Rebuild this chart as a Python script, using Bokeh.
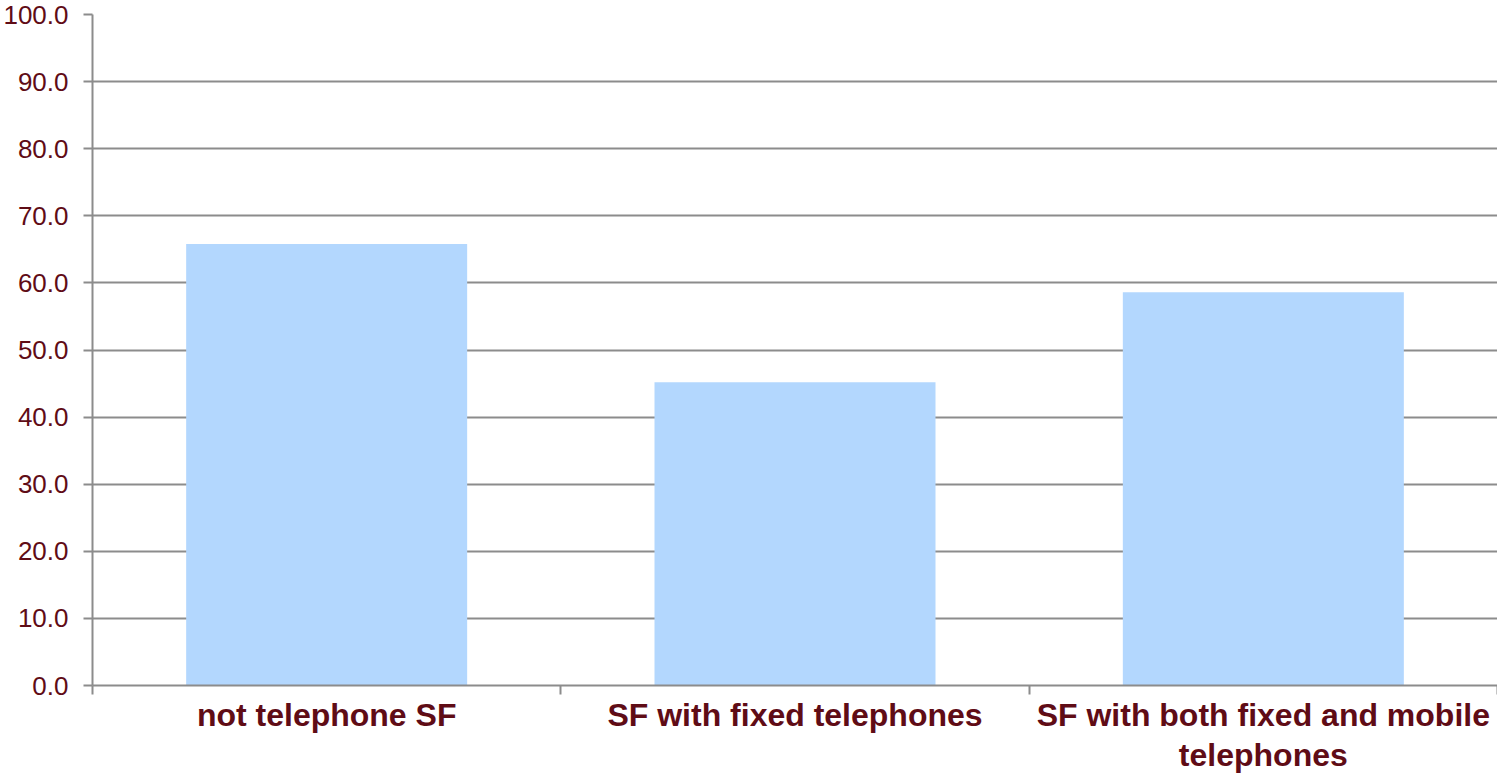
import numpy as np
from bokeh.plotting import figure
from bokeh.models import Range1d, FixedTicker, ColumnDataSource, PrintfTickFormatter
from bokeh.embed import file_html
from bokeh.resources import INLINE

categories = ["not telephone SF", "SF with fixed telephones", "SF with both fixed and mobile\ntelephones"]
values = [65.8, 45.2, 58.6]
y_ticks = [0, 10, 20, 30, 40, 50, 60, 70, 80, 90, 100]

TEXT = "#5F0C16"
GRID = "#8C8C8C"
BAR = "#B3D7FE"

n = len(categories)
centers = np.arange(n) + 0.5
src = ColumnDataSource(dict(x=centers, top=values))

p = figure(width=1497, height=775, output_backend="svg", toolbar_location=None,
           x_range=Range1d(0, n), y_range=Range1d(0, 100),
           min_border_left=92, min_border_top=14, min_border_right=0, min_border_bottom=89)
p.outline_line_color = None
p.background_fill_color = "white"
p.border_fill_color = "white"

p.vbar(x="x", top="top", width=0.6, source=src, fill_color=BAR, line_color=None)

# y axis
yax = p.yaxis[0]
yax.ticker = FixedTicker(ticks=y_ticks, minor_ticks=[])
yax.formatter = PrintfTickFormatter(format="%.1f")
yax.axis_line_color = GRID
yax.axis_line_width = 2
yax.major_tick_line_color = GRID
yax.major_tick_line_width = 2
yax.major_tick_out = 9
yax.major_tick_in = 0
yax.minor_tick_line_color = None
yax.major_label_text_font = "Liberation Sans"
yax.major_label_text_font_size = "26px"
yax.major_label_text_color = TEXT
yax.major_label_standoff = 15

# x axis: labels at centers, boundary ticks as minor ticks
xax = p.xaxis[0]
xax.ticker = FixedTicker(ticks=list(centers), minor_ticks=list(np.arange(n + 1)))
xax.major_label_overrides = {float(c): lab for c, lab in zip(centers, categories)}
xax.axis_line_color = GRID
xax.axis_line_width = 2
xax.major_tick_line_color = None
xax.major_tick_out = 9
xax.minor_tick_line_color = GRID
xax.minor_tick_line_width = 2
xax.minor_tick_out = 9
xax.minor_tick_in = 0
xax.major_label_text_font = "Liberation Sans"
xax.major_label_text_font_style = "bold"
xax.major_label_text_font_size = "32px"
xax.major_label_text_color = TEXT
xax.major_label_standoff = 2
xax.major_label_text_line_height = 1.12

p.xgrid.grid_line_color = None
p.ygrid.grid_line_color = GRID
p.ygrid.grid_line_width = 2
p.ygrid.grid_line_alpha = 1.0

open("out.html", "w").write(file_html(p, INLINE))
